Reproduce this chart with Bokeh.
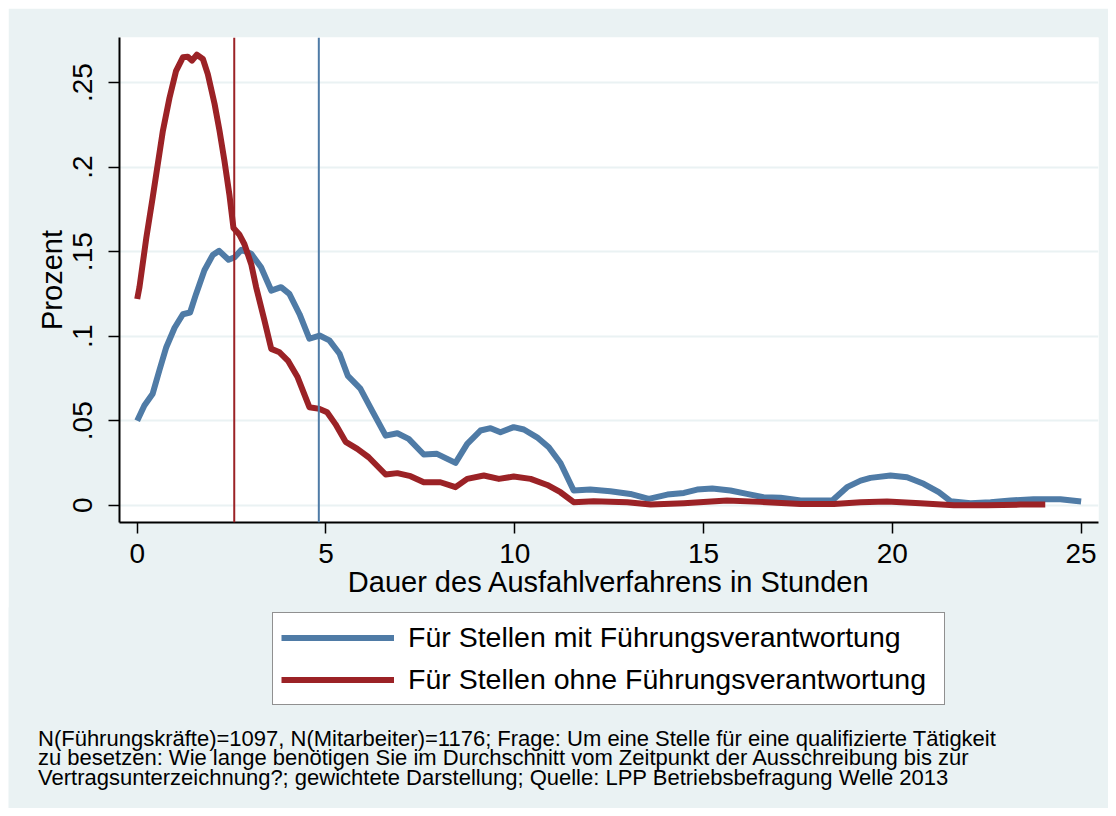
from bokeh.plotting import figure
from bokeh.models import Range1d, FixedTicker, Span, Legend, LegendItem, Label
from bokeh.embed import file_html
from bokeh.resources import INLINE

# ---- data ----
blue_x = [0.0, 0.19, 0.41, 0.59, 0.77, 0.99, 1.21, 1.40, 1.56, 1.78, 2.0, 2.17, 2.42, 2.58, 2.76, 3.02,
          3.28, 3.55, 3.81, 4.03, 4.30, 4.56, 4.83, 5.09, 5.36, 5.58, 5.91, 6.22, 6.58, 6.89, 7.19,
          7.59, 7.94, 8.43, 8.74, 9.09, 9.36, 9.62, 9.97, 10.24, 10.59, 10.9, 11.21, 11.56, 12.0,
          12.53, 13.06, 13.55, 14.04, 14.48, 14.83, 15.23, 15.71, 16.15, 16.59, 17.04, 17.57, 18.41,
          18.8, 19.16, 19.42, 19.95, 20.39, 20.83, 21.23, 21.54, 22.07, 22.6, 23.13, 23.74, 24.45, 25.0]
blue_y = [0.050, 0.059, 0.066, 0.080, 0.0935, 0.105, 0.113, 0.114, 0.125, 0.139, 0.148, 0.1505, 0.1452,
          0.1467, 0.1511, 0.1487, 0.1408, 0.127, 0.129, 0.125, 0.113, 0.0985, 0.1004, 0.0975, 0.0896,
          0.0765, 0.069, 0.056, 0.0412, 0.0426, 0.0393, 0.030, 0.0304, 0.0251, 0.0363, 0.0442, 0.0456,
          0.0432, 0.0462, 0.0448, 0.0402, 0.0343, 0.0250, 0.0087, 0.0093, 0.0083, 0.0067, 0.0038,
          0.0063, 0.0073, 0.0093, 0.0099, 0.0087, 0.0067, 0.0047, 0.0044, 0.0028, 0.0028, 0.0107,
          0.0146, 0.0162, 0.0176, 0.0166, 0.0127, 0.0077, 0.0024, 0.0012, 0.0018, 0.0028, 0.0036,
          0.0036, 0.0022]

red_x = [0.0, 0.06, 0.24, 0.41, 0.68, 0.855, 1.03, 1.21, 1.34, 1.45, 1.58, 1.74, 1.87, 2.05, 2.18,
         2.31, 2.44, 2.55, 2.71, 2.84, 3.02, 3.15, 3.37, 3.55, 3.77, 3.99, 4.25, 4.56, 4.83, 5.03,
         5.25, 5.52, 5.83, 6.13, 6.58, 6.89, 7.24, 7.59, 8.03, 8.43, 8.74, 9.18, 9.58, 9.97, 10.42,
         10.86, 11.21, 11.56, 12.09, 12.98, 13.6, 14.48, 15.62, 16.5, 17.57, 18.45, 19.16, 19.86,
         20.74, 21.63, 22.51, 23.39, 24.05]
red_y = [0.122, 0.129, 0.158, 0.182, 0.2215, 0.241, 0.257, 0.265, 0.2653, 0.263, 0.2665, 0.264,
         0.255, 0.2373, 0.2215, 0.2038, 0.184, 0.164, 0.160, 0.1544, 0.1426, 0.129, 0.1093, 0.0925,
         0.0905, 0.0856, 0.0757, 0.058, 0.057, 0.055, 0.048, 0.0375, 0.0334, 0.0284, 0.0182, 0.019,
         0.0172, 0.0136, 0.0136, 0.0107, 0.0156, 0.0176, 0.0156, 0.017, 0.0156, 0.012, 0.0077,
         0.0018, 0.0024, 0.0018, 0.0004, 0.0012, 0.0028, 0.002, 0.0008, 0.0008, 0.0018, 0.0022,
         0.0012, 0.0, 0.0, 0.0004, 0.0004]

means = [4.81, 2.57]  # blue, red
series_labels = ["Für Stellen mit Führungsverantwortung", "Für Stellen ohne Führungsverantwortung"]
x_ticks = [0, 5, 10, 15, 20, 25]
y_ticks = [0, 0.05, 0.1, 0.15, 0.2, 0.25]
y_tick_labels = ["0", ".05", ".1", ".15", ".2", ".25"]
x_title = "Dauer des Ausfahlverfahrens in Stunden"
y_title = "Prozent"
note_lines = [
    "N(Führungskräfte)=1097, N(Mitarbeiter)=1176; Frage: Um eine Stelle für eine qualifizierte Tätigkeit",
    "zu besetzen: Wie lange benötigen Sie im Durchschnitt vom Zeitpunkt der Ausschreibung bis zur",
    "Vertragsunterzeichnung?; gewichtete Darstellung; Quelle: LPP Betriebsbefragung Welle 2013",
]

BLUE = "#4F7BA6"
RED = "#9B2226"
BG = "#EAF2F3"
FONT = "Liberation Sans"

# ---------------- main plot ----------------
p = figure(width=1100, height=600, output_backend="svg", toolbar_location=None,
           x_range=Range1d(-0.469, 25.46), y_range=Range1d(-0.0102, 0.2767),
           min_border_left=111, min_border_right=10, min_border_top=29, min_border_bottom=86)
p.margin = (8, 8, 0, 8)
p.border_fill_color = BG
p.background_fill_color = "white"
p.outline_line_color = None

p.xaxis.ticker = FixedTicker(ticks=x_ticks)
p.yaxis.ticker = FixedTicker(ticks=y_ticks)
p.yaxis.major_label_overrides = dict(zip(y_ticks, y_tick_labels))
p.yaxis.major_label_orientation = "vertical"
p.xaxis.axis_label = x_title
p.yaxis.axis_label = y_title
for ax in (p.xaxis, p.yaxis):
    ax.axis_line_color = "black"
    ax.axis_line_width = 2
    ax.major_tick_line_color = "black"
    ax.major_tick_line_width = 1.5
    ax.major_tick_out = 11
    ax.major_tick_in = 0
    ax.minor_tick_line_color = None
    ax.major_label_text_font = FONT
    ax.major_label_text_font_size = "28px"
    ax.major_label_text_color = "black"
    ax.axis_label_text_font = FONT
    ax.axis_label_text_font_size = "29px"
    ax.axis_label_text_font_style = "normal"
    ax.axis_label_text_color = "black"
p.xaxis.major_label_standoff = 10
p.xaxis.axis_label_standoff = 0
p.yaxis.major_label_standoff = 16
p.yaxis.axis_label_standoff = 3

p.xgrid.grid_line_color = None
p.ygrid.ticker = FixedTicker(ticks=y_ticks)
p.ygrid.grid_line_color = BG
p.ygrid.grid_line_width = 2

for m, c in zip(means, [BLUE, RED]):
    p.add_layout(Span(location=m, dimension="height", line_color=c, line_width=2))

p.line(blue_x, blue_y, line_color=BLUE, line_width=6, line_join="round")
p.line(red_x, red_y, line_color=RED, line_width=6, line_join="round")

# ---------------- legend + note panel (own root, full-width frame) ----------------
q = figure(width=1100, height=201, output_backend="svg", toolbar_location=None,
           x_range=Range1d(0, 1100), y_range=Range1d(201, 0),
           min_border_left=0, min_border_right=0, min_border_top=0, min_border_bottom=0)
q.margin = (-1, 8, 8, 8)
q.axis.visible = False
q.grid.visible = False
q.outline_line_color = None
q.background_fill_color = BG
q.border_fill_color = BG

# legend proxies (drawn outside the visible range)
lb = q.line([-50, -40], [100, 100], line_color=BLUE, line_width=6)
lr = q.line([-50, -40], [100, 100], line_color=RED, line_width=6)

legend = Legend(items=[LegendItem(label=series_labels[0], renderers=[lb]),
                       LegendItem(label=series_labels[1], renderers=[lr])],
                location=(264, 103), margin=0, padding=8, spacing=9,
                glyph_width=113, glyph_height=31, label_standoff=14,
                label_width=528, label_height=31,
                label_text_font=FONT, label_text_font_size="28.5px", label_text_color="black",
                border_line_color="#222222", border_line_width=1,
                background_fill_color="white", background_fill_alpha=1.0)
q.add_layout(legend, "center")

for i, line in enumerate(note_lines):
    q.add_layout(Label(x=29.5, y=130.7 + 19.5 * i, text=line, text_font=FONT,
                       text_font_size="22px", text_color="black", text_baseline="alphabetic"))

open("out.html", "w").write(file_html([p, q], INLINE))
